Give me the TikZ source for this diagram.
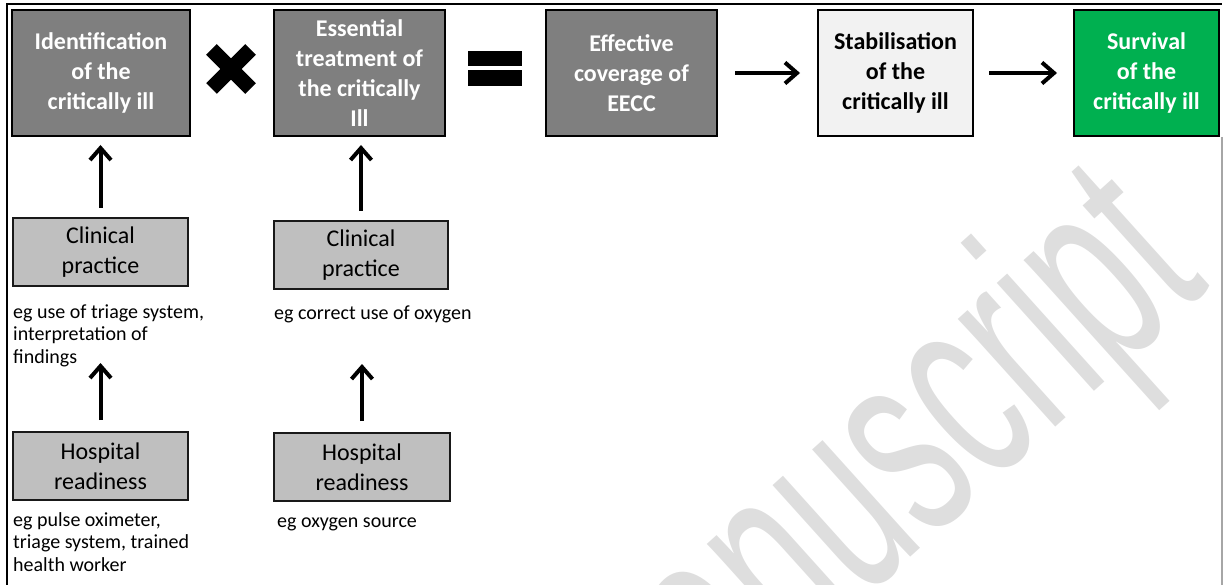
\documentclass[tikz,border=0pt]{standalone}
\usepackage{fontspec}
\setmainfont{Carlito}
\newfontfamily\wmfont{Liberation Sans}
\usetikzlibrary{arrows.meta}
\definecolor{eeccdark}{HTML}{7F7F7F}
\definecolor{eecclight}{HTML}{BFBFBF}
\definecolor{eeccpale}{HTML}{F2F2F2}
\definecolor{eeccgreen}{HTML}{00B050}
\definecolor{wmgray}{HTML}{DEDEDE}
\definecolor{framegray}{HTML}{A6A6A6}
\newlength{\EECCSep}
\setlength{\EECCSep}{99pt}
\tikzset{/EECC/goal/.style={
	shape=rectangle, draw=black, line width=2pt, fill=eeccdark, text=white, align=center, inner sep=0pt, minimum height=126pt, font=\fontsize{24}{30}\selectfont\bfseries
}}
\tikzset{/EECC/input/.style={
	shape=rectangle, draw=black!90, line width=2pt, fill=eecclight, align=center, inner sep=0pt, minimum height=68pt, font=\fontsize{24}{30}\selectfont
}}
\tikzset{/EECC/note/.style={anchor=base west, align=left, inner sep=0pt, font=\fontsize{20}{22.5}\selectfont
}}
\tikzset{/EECC/arrow/.style={line width=4pt, -{Straight Barb[length=12pt, width=21pt]}
}}
\tikzset{/EECC/watermark/.style={text=wmgray, inner sep=0pt, rotate=42, xscale=0.58, font=\wmfont\fontsize{275}{275}\selectfont
}}

\begin{document}
\begin{tikzpicture}[x=1pt, y=-1pt]
			\useasboundingbox (0,0) rectangle (1223,585);
			\path (1212,286) node[/EECC/watermark, anchor=base east] (wm) {Manuscript};
			% frame
			\draw[line width=2pt] (7,585) -- (7,4) -- (1222,4);
			\draw[line width=1.5pt, framegray] (1222,137) -- (1222,585);
			% top row
			\path (101,73) node[/EECC/goal, minimum width=178pt] (id) {Identification\\of the\\critically ill};
			\path (id.east) ++ (82, 0) node[anchor=west, /EECC/goal, minimum width=171pt] (et) {Essential\\treatment of\\the critically\\Ill};
			\path (et.east) ++ (\EECCSep, 0) node[anchor=west, /EECC/goal, minimum width=171pt] (ec) {Effective\\coverage of\\EECC};
			\path (ec.east) ++ (\EECCSep, 0) node[anchor=west, /EECC/goal, minimum width=155pt, fill=eeccpale, text=black] (st) {Stabilisation\\of the\\critically ill};
			\path (st.east) ++ (\EECCSep, 0) node[anchor=west, /EECC/goal, minimum width=145pt, fill=eeccgreen] (sv) {Survival\\of the\\critically ill};
			\draw[/EECC/arrow, shorten <=17pt, shorten >=17pt] (ec) -- (st);
			\draw[/EECC/arrow, shorten <=15pt, shorten >=16pt] (st) -- (sv);
			% times and equals
			\path (id.east) ++ (40, -4) coordinate (times);
			\path (et.east) ++ (49, -4.5) coordinate (equals);
			\draw[line width=15pt] ([shift={(-19.5,-19.5)}]times) -- ([shift={(19.5,19.5)}]times);
			\draw[line width=15pt] ([shift={(-19.5,19.5)}]times) -- ([shift={(19.5,-19.5)}]times);
			\fill ([shift={(-27,-17.5)}]equals) rectangle ([shift={(27,-2.5)}]equals);
			\fill ([shift={(-27,1.5)}]equals) rectangle ([shift={(27,17.5)}]equals);
			% inputs
			\path (id.south) ++ (-0.5, 80) node[anchor=north, /EECC/input, minimum width=175pt] (cp1) {Clinical\\practice};
			\path (et.south) ++ (1.5, 83) node[anchor=north, /EECC/input, minimum width=174pt] (cp2) {Clinical\\practice};
			\path (cp1.south) ++ (0, 144) node[anchor=north, /EECC/input, minimum width=175pt] (hr1) {Hospital\\readiness};
			\path (cp2.south) ++ (1, 142) node[anchor=north, /EECC/input, minimum width=176pt] (hr2) {Hospital\\readiness};
			% notes: base is the last line
			\path (cp1.south west) ++ (1, 76) node[/EECC/note] (cpnote1) {eg use of triage system,\\interpretation of\\findings};
			\path (cp2.south west) ++ (1, 29) node[/EECC/note] (cpnote2) {eg correct use of oxygen};
			\path (hr1.south west) ++ (1, 70) node[/EECC/note] (hrnote1) {eg pulse oximeter,\\triage system, trained\\health worker};
			\path (hr2.south west) ++ (4, 25) node[/EECC/note] (hrnote2) {eg oxygen source};
			\draw[/EECC/arrow, shorten <=9pt, shorten >=8pt] (cp1.north) -- (cp1.north |- id.south);
			\draw[/EECC/arrow, shorten <=9pt, shorten >=8pt] (cp2.north) -- (cp2.north |- et.south);
			\draw[/EECC/arrow, shorten <=11pt, shorten >=76pt] (hr1.north) -- (hr1.north |- cp1.south);
			\draw[/EECC/arrow, shorten <=11pt, shorten >=74pt] (hr2.north) -- (hr2.north |- cp2.south);
		\end{tikzpicture}
\end{document}
